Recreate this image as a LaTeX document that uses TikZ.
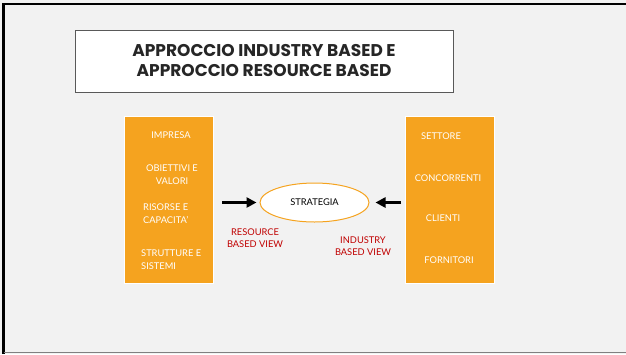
\documentclass[tikz,border=0pt]{standalone}
\usepackage{fontspec}
\setmainfont{Lato}
\newfontfamily\titlefont{Poppins}
\usetikzlibrary{shapes.geometric, arrows.meta, positioning}
\definecolor{slidegray}{RGB}{242,242,242}
\definecolor{boxorange}{RGB}{245,163,31}
\definecolor{viewred}{RGB}{192,0,0}
\definecolor{titleink}{RGB}{38,38,38}
\tikzset{
  colbox/.style={rectangle, fill=boxorange, draw=white, line width=0.8pt, minimum width=89pt, minimum height=167pt, inner sep=0pt},
  item/.style={text=white, font=\fontsize{9.3}{13}\selectfont, align=left, inner sep=0pt},
  viewlabel/.style={text=viewred, font=\fontsize{9.3}{12}\selectfont, align=center, inner sep=0pt},
  pusharrow/.style={-{Triangle[length=10pt, width=10pt]}, line width=2.8pt, black}
}
\begin{document}
\begin{tikzpicture}[x=1pt, y=-1pt]
\useasboundingbox (0,0) rectangle (626,354);
% Slide background
\fill[slidegray] (0,0) rectangle (626,354);
\draw[black, line width=2.5pt] (3.5,354) -- (3.5,4) -- (626,4);
\draw[gray, line width=1pt] (3.5,352.5) -- (626,352.5);

% Title
\node[rectangle, draw=black!65, fill=white, line width=1pt, minimum width=378pt, minimum height=62pt] (title) at (264,61) {};
\node[text=titleink, font=\titlefont\bfseries\fontsize{17}{20}\selectfont, align=center] (titletext) at (title.center) {APPROCCIO INDUSTRY BASED E\\APPROCCIO RESOURCE BASED};

% Resource side
\node[colbox] (resbox) at (168.5,199.5) {};
\node[item, align=center] (impresa) at (171,135) {IMPRESA};
\node[item, align=center] (obiettivi) at (172,174.5) {OBIETTIVI E\\VALORI};
\node[item, anchor=west] (risorse) at (143,214) {RISORSE E\\CAPACITA'};
\node[item, anchor=west] (strutture) at (141,259.5) {STRUTTURE E\\SISTEMI};

% Industry side
\node[colbox] (indbox) at (449.5,199.5) {};
\node[item] (settore) at (441,136) {SETTORE};
\node[item] (concorrenti) at (448,178) {CONCORRENTI};
\node[item] (clienti) at (443,218) {CLIENTI};
\node[item] (fornitori) at (449,260) {FORNITORI};

% Strategy
\node[ellipse, draw=boxorange, fill=white, line width=1pt, minimum width=109pt, minimum height=39pt, font=\fontsize{9.3}{12}\selectfont] (strategia) at (314.5,202.5) {STRATEGIA};
\coordinate (resstart) at (222,202.5);
\coordinate (indstart) at (401,202.5);
\draw[pusharrow] (resstart) -- ([xshift=-3pt]strategia.west);
\draw[pusharrow] (indstart) -- ([xshift=6pt]strategia.east);

\node[viewlabel] (rbv) at (255,238) {RESOURCE\\BASED VIEW};
\node[viewlabel] (ibv) at (363,246) {INDUSTRY\\BASED VIEW};
\end{tikzpicture}
\end{document}
